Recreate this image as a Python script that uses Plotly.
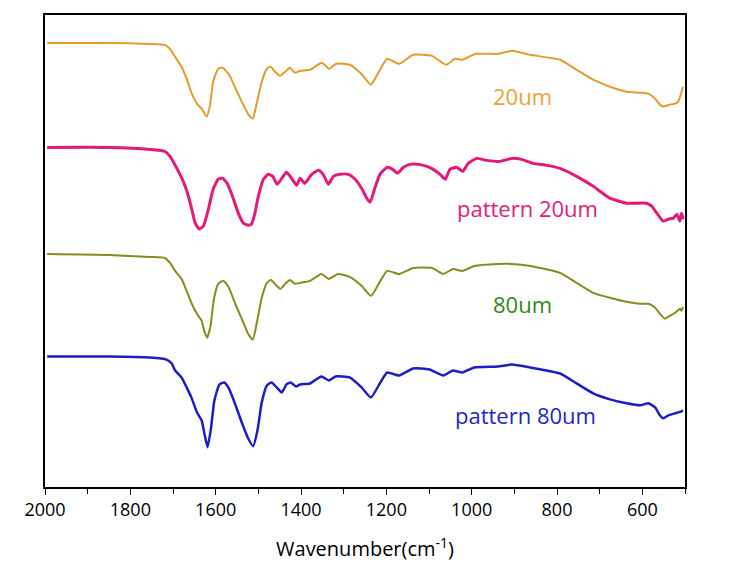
import plotly.graph_objects as go

# ---- data (wavenumber in cm^-1, intensity in arbitrary offset units) ----
wn_20 = [1995, 1850, 1754, 1719, 1707, 1695, 1680, 1668, 1656, 1644, 1633, 1621, 1613, 1606, 1594, 1584,
         1570, 1555, 1539, 1523, 1513, 1504, 1492, 1480, 1471, 1461, 1449, 1437, 1426, 1414, 1402, 1379,
         1351, 1334, 1318, 1285, 1259, 1236, 1220, 1198, 1170, 1137, 1093, 1060, 1039, 1023, 990, 938,
         905, 863, 793, 754, 715, 676, 637, 605, 586, 570, 559, 551, 535, 523, 516, 508, 505]
t_20 = [446, 446, 445, 444, 440, 432, 422, 410, 395, 385, 380, 372, 384, 407, 420, 421,
        415, 402, 387, 374, 370, 385, 407, 420, 422, 417, 413, 417, 421, 416, 418, 419,
        426, 420, 425, 424, 415, 404, 415, 430, 425, 434, 433, 424, 430, 429, 435, 435,
        438, 434, 429, 419, 409, 402, 397, 396, 395, 390, 384, 382, 384, 385, 387, 397, 402]

wn_p20 = [1995, 1850, 1754, 1719, 1707, 1691, 1676, 1664, 1656, 1648, 1638, 1629, 1617, 1606, 1594, 1584,
          1573, 1559, 1547, 1535, 1524, 1516, 1508, 1500, 1488, 1477, 1466, 1456, 1445, 1434, 1422, 1410,
          1402, 1391, 1375, 1359, 1348, 1336, 1324, 1309, 1289, 1273, 1258, 1246, 1238, 1227, 1215, 1198,
          1185, 1174, 1160, 1145, 1125, 1105, 1090, 1074, 1062, 1051, 1035, 1021, 1008, 988, 965, 934,
          906, 883, 856, 824, 793, 754, 715, 676, 637, 590, 578, 566, 551, 539, 527, 519, 512, 508, 504]
t_p20 = [341, 341, 339, 337, 332, 320, 307, 292, 279, 265, 259, 262, 279, 299, 309, 310,
         305, 290, 275, 265, 263, 264, 275, 292, 309, 314, 312, 304, 310, 316, 310, 303,
         310, 305, 314, 318, 314, 304, 312, 314, 314, 309, 300, 290, 286, 300, 314, 321,
         319, 315, 321, 324, 324, 322, 319, 314, 309, 319, 321, 317, 325, 330, 328, 327,
         330, 329, 325, 323, 320, 312, 302, 290, 285, 285, 282, 275, 267, 269, 270, 274, 267, 275, 269]

wn_80 = [1995, 1850, 1754, 1719, 1707, 1695, 1680, 1668, 1656, 1644, 1633, 1627, 1620, 1612, 1604, 1594,
         1582, 1570, 1555, 1539, 1524, 1513, 1504, 1492, 1480, 1470, 1459, 1448, 1437, 1426, 1414, 1402,
         1379, 1352, 1335, 1313, 1286, 1258, 1236, 1214, 1198, 1170, 1137, 1093, 1066, 1044, 1022, 994,
         939, 906, 862, 793, 754, 715, 676, 637, 605, 586, 570, 559, 547, 535, 523, 512, 508, 505]
t_80 = [234, 233, 231, 230, 225, 217, 209, 197, 184, 174, 167, 157, 150, 162, 189, 204,
        207, 201, 185, 169, 154, 148, 164, 190, 205, 208, 203, 199, 204, 208, 204, 205,
        207, 214, 209, 214, 211, 202, 192, 207, 217, 214, 220, 220, 214, 219, 217, 222,
        224, 224, 222, 215, 205, 195, 190, 186, 184, 184, 180, 174, 169, 172, 175, 179, 177, 181]

wn_p80 = [1995, 1850, 1754, 1715, 1703, 1695, 1680, 1668, 1656, 1644, 1633, 1627, 1619, 1611, 1603, 1591,
          1580, 1569, 1555, 1539, 1524, 1512, 1502, 1492, 1480, 1469, 1457, 1445, 1434, 1424, 1412, 1402,
          1379, 1352, 1335, 1319, 1286, 1258, 1236, 1214, 1198, 1170, 1137, 1099, 1066, 1044, 1022, 994,
          939, 906, 862, 793, 754, 715, 676, 637, 605, 586, 570, 559, 551, 539, 523, 508, 505]
t_p80 = [131, 131, 130, 128, 124, 117, 110, 100, 89, 75, 67, 55, 40, 59, 87, 103,
         105, 99, 84, 65, 49, 41, 57, 85, 102, 105, 100, 95, 103, 105, 101, 103,
         104, 111, 107, 111, 110, 100, 90, 105, 115, 112, 119, 118, 112, 117, 115, 120,
         121, 123, 120, 114, 104, 94, 88, 84, 82, 84, 80, 72, 69, 72, 74, 76, 77]

series_names = ["20um", "pattern 20um", "80um", "pattern 80um"]
line_colors = ["#E99A2C", "#E3197B", "#8A8A1E", "#1E1EC8"]
text_colors = ["#EFA23C", "#E0207A", "#2E8A1E", "#2424CC"]
line_widths = [2, 3, 2, 2.5]
xs = [wn_20, wn_p20, wn_80, wn_p80]
ys = [t_20, t_p20, t_80, t_p80]

x_tickvals = [2000, 1800, 1600, 1400, 1200, 1000, 800, 600]

fig = go.Figure()
for name, x, y, c, w in zip(series_names, xs, ys, line_colors, line_widths):
    fig.add_trace(go.Scatter(x=x, y=y, mode="lines", name=name,
                             line=dict(color=c, width=w, shape="spline", smoothing=0.5)))

label_pos = [(882, 393), (870, 280), (880, 184), (875, 72)]
for name, (lx, ly), tc in zip(series_names, label_pos, text_colors):
    fig.add_annotation(x=lx, y=ly, text=name, showarrow=False,
                       font=dict(family="Open Sans, sans-serif", size=22, color=tc))

fig.update_layout(
    width=736, height=582,
    margin=dict(l=37, r=59, t=5, b=103),
    paper_bgcolor="white", plot_bgcolor="white",
    showlegend=False,
    font=dict(family="Open Sans, sans-serif", color="black"),
)
fig.update_xaxes(
    range=[2000, 500], tickvals=x_tickvals, ticks="outside", ticklen=6, tickwidth=1.2,
    tickcolor="black", showline=True, linecolor="black", linewidth=1.5, mirror=True,
    showgrid=False, zeroline=False, tickfont=dict(size=18, color="black"),
    minor=dict(dtick=100, tick0=2000, ticks="outside", ticklen=5, tickcolor="black", tickwidth=1.2),
    title=dict(text="Wavenumber(cm<sup>-1</sup>)", font=dict(size=20, color="black"), standoff=22),
)
fig.update_yaxes(
    range=[0, 474], showticklabels=False, ticks="", showline=True, linecolor="black",
    linewidth=1.5, mirror=True, showgrid=False, zeroline=False,
)

fig.write_html("out.html")
